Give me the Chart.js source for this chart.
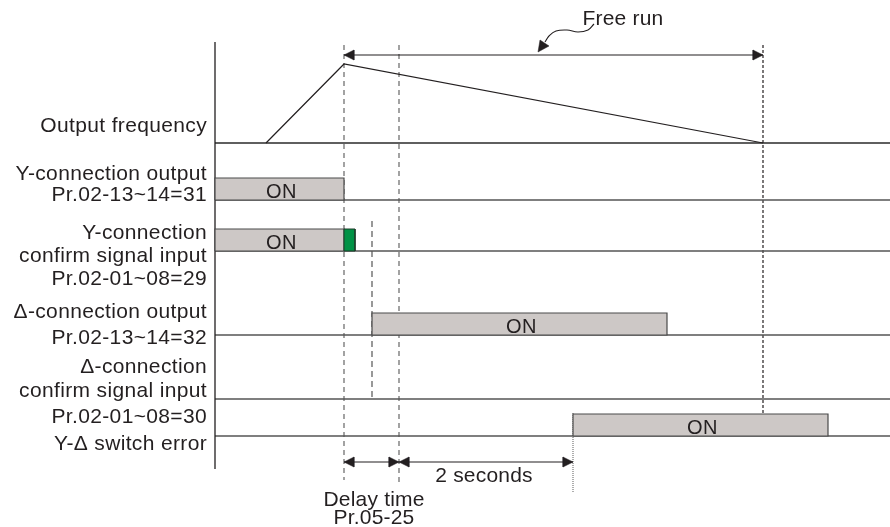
<!DOCTYPE html>
<html><head><meta charset="utf-8">
<script src="https://cdn.jsdelivr.net/npm/chart.js@4/dist/chart.umd.min.js"></script>
<style>html,body{margin:0;padding:0;background:#fff}canvas{display:block}</style>
</head><body><canvas id="c" width="890" height="527"></canvas>
<script>
// ---------- DATA (time in diagram units, t = 0 at the signal axis) ----------
const labelLines = [
  ["Output frequency"],
  ["Y-connection output", "Pr.02-13~14=31"],
  ["Y-connection", "confirm signal input", "Pr.02-01~08=29"],
  ["Δ-connection output", "Pr.02-13~14=32"],
  ["Δ-connection", "confirm signal input", "Pr.02-01~08=30"],
  ["Y-Δ switch error"]
];
const freqTimes  = [51, 129, 548];
const freqLevels = [0, 1, 0];
const onStarts   = [null, 0, 0, 157, null, 358];
const onEnds     = [null, 129, 129, 452, null, 613];
const confirmPulse = [129, 140];
const markerTimes  = [129, 184, 548, 157, 358];
const freeRunSpan  = [129, 548];
const delaySpan    = [129, 184];
const switchSpan   = [184, 358];
const onText = "ON";
const annotationTexts = ["Free run", "2 seconds", "Delay time", "Pr.05-25"];
const timeEnd = 675;

// ---------- LAYOUT / STYLE ----------
const X0 = 215;
const rowBaseY = [143, 200, 251, 335, 399, 436];
const freqHeight = 79;
const boxH = 22;
const markerYRange = [[45, 480], [45, 482], [45, 413], [221, 398], [413, 492]];
const markerDash = [[5, 4], [5, 4], [3, 2], [6, 4], [1, 1]];
const markerColor = ['#666', '#666', '#231f20', '#555', '#777'];
const labelBaselines = [[132], [180, 201], [239, 262, 285], [318, 344], [373, 397, 423], [450]];
const arrowY = {freeRun: 55, bottom: 462};
const ink = '#231f20';
const FONT = '"Liberation Sans", Arial, sans-serif';

const ds = [];
function addLine(points, opts) {
  ds.push(Object.assign({data: points, borderColor: ink, borderWidth: 1, pointRadius: 0,
    fill: false, tension: 0, order: 3}, opts));
}
function addPoly(points, color, order) {
  ds.push({data: points, borderColor: color, backgroundColor: color, borderWidth: 0.5,
    pointRadius: 0, fill: 'shape', tension: 0, order: order});
}
function addArrowHead(t, y, dir, L, H) {
  addPoly([{x: t, y: y}, {x: t - dir * L, y: y - H / 2}, {x: t - dir * L, y: y + H / 2}, {x: t, y: y}], ink, 0);
}
function addDoubleArrow(span, y) {
  addLine([{x: span[0], y: y}, {x: span[1], y: y}], {borderWidth: 1.2, order: 2});
  addArrowHead(span[0], y, -1, 10, 10);
  addArrowHead(span[1], y, 1, 10, 10);
}

// markers (dashed verticals) — bottom layer
markerTimes.forEach((t, i) => {
  addLine([{x: t, y: markerYRange[i][0]}, {x: t, y: markerYRange[i][1]}],
    {borderDash: markerDash[i], borderColor: markerColor[i], borderWidth: 1.2, order: 6});
});
// signal axis
addLine([{x: 0, y: 42}, {x: 0, y: 469}], {borderWidth: 1.3, order: 5});
// baselines
rowBaseY.forEach((y, i) => {
  addLine([{x: 0, y: y}, {x: timeEnd, y: y}], {borderColor: i === 0 ? '#2a2a2a' : '#555', borderWidth: 1.5, order: 5});
});
// output frequency trace
addLine(freqTimes.map((t, k) => ({x: t, y: rowBaseY[0] - freqLevels[k] * freqHeight})), {borderWidth: 1.2, order: 4});
// ON boxes
onStarts.forEach((s, i) => {
  if (s === null) return;
  const b = rowBaseY[i], tp = b - boxH, e = onEnds[i];
  ds.push({data: [{x: s, y: b}, {x: s, y: tp}, {x: e, y: tp}, {x: e, y: b}, {x: s, y: b}],
    borderColor: '#4a4a4a', backgroundColor: '#cdc8c6', borderWidth: 1.2, pointRadius: 0,
    fill: 'shape', tension: 0, order: 1});
});
// confirm pulse (green)
{
  const b = rowBaseY[2], tp = b - boxH;
  ds.push({data: [{x: confirmPulse[0], y: b}, {x: confirmPulse[0], y: tp}, {x: confirmPulse[1], y: tp}, {x: confirmPulse[1], y: b}, {x: confirmPulse[0], y: b}],
    borderColor: '#1f3d2a', backgroundColor: '#009245', borderWidth: 1, pointRadius: 0,
    fill: 'shape', tension: 0, order: 0});
}
// arrows
addDoubleArrow(freeRunSpan, arrowY.freeRun);
addDoubleArrow(delaySpan, arrowY.bottom);
addDoubleArrow(switchSpan, arrowY.bottom);
// "Free run" squiggle pointer
const squig = [[594, 24], [588, 30], [578, 32], [567, 30], [556, 31], [549, 36], [545, 42]];
addLine(squig.map(p => ({x: p[0] - X0, y: p[1]})), {tension: 0.4, borderWidth: 1.1, order: 2});
addPoly([{x: 538 - X0, y: 52}, {x: 540 - X0, y: 40}, {x: 549 - X0, y: 46}, {x: 538 - X0, y: 52}], ink, 0);

const textPlugin = {
  id: 'texts',
  afterDraw(chart) {
    const ctx = chart.ctx, xs = chart.scales.x, ys = chart.scales.y;
    ctx.save();
    ctx.fillStyle = ink;
    ctx.textBaseline = 'alphabetic';
    ctx.font = '21px ' + FONT;
    ctx.letterSpacing = '0.35px';
    ctx.textAlign = 'right';
    labelLines.forEach((lines, i) => {
      lines.forEach((s, k) => ctx.fillText(s, xs.getPixelForValue(-8), ys.getPixelForValue(labelBaselines[i][k])));
    });
    ctx.textAlign = 'center';
    ctx.font = '20px ' + FONT;
    ctx.letterSpacing = '0.6px';
    onStarts.forEach((s, i) => {
      if (s === null) return;
      const cx = (xs.getPixelForValue(s) + xs.getPixelForValue(onEnds[i])) / 2;
      ctx.fillText(onText, cx + 2, ys.getPixelForValue(rowBaseY[i] - 2));
    });
    ctx.font = '21px ' + FONT;
    ctx.letterSpacing = '0.2px';
    ctx.fillText(annotationTexts[0], xs.getPixelForValue(623 - X0), ys.getPixelForValue(25));
    ctx.fillText(annotationTexts[1], xs.getPixelForValue((switchSpan[0] + switchSpan[1]) / 2 - 2), ys.getPixelForValue(482));
    ctx.fillText(annotationTexts[2], xs.getPixelForValue(374 - X0), ys.getPixelForValue(506));
    ctx.fillText(annotationTexts[3], xs.getPixelForValue(374 - X0), ys.getPixelForValue(524));
    ctx.restore();
  }
};

new Chart(document.getElementById('c'), {
  type: 'line',
  data: {datasets: ds},
  options: {
    responsive: false, animation: false, devicePixelRatio: 1,
    layout: {padding: 0},
    plugins: {legend: {display: false}, tooltip: {enabled: false}},
    elements: {point: {radius: 0}, line: {capBezierPoints: true}},
    scales: {
      x: {type: 'linear', min: -X0, max: 890 - X0, display: false},
      y: {type: 'linear', min: 0, max: 527, reverse: true, display: false}
    }
  },
  plugins: [textPlugin]
});
</script>
</body></html>
